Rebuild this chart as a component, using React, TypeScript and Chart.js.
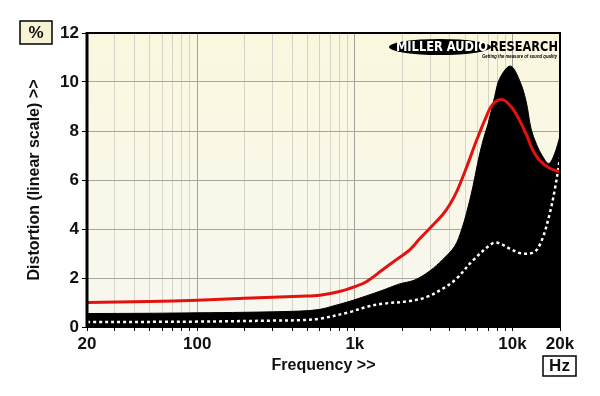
import React, { useEffect, useRef } from "react";
import { Chart, registerables } from "chart.js";

Chart.register(...registerables);

// ---- data ----
const envFreq = [20, 50, 100, 200, 450, 600, 720, 930, 1500, 1900, 2400, 3000, 3600, 4300, 4740, 5100, 5600, 6000, 6500, 7000, 7700, 8300, 9700, 11100, 12200, 13100, 14200, 15600, 17000, 18500, 20000];
const envVals = [0.55, 0.56, 0.58, 0.6, 0.65, 0.72, 0.85, 1.05, 1.5, 1.75, 1.92, 2.3, 2.75, 3.3, 3.95, 4.64, 5.71, 6.67, 7.62, 8.3, 9.4, 10.15, 10.65, 10.05, 9.2, 8.1, 7.45, 6.94, 6.67, 7.08, 7.8];

const redFreq = [20, 50, 100, 200, 450, 600, 800, 1000, 1183, 1508, 1834, 2228, 2577, 3118, 3622, 4000, 4406, 5096, 5900, 6828, 7516, 8626, 9838, 11096, 12244, 13486, 14860, 17214, 20000];
const redVals = [1.0, 1.04, 1.09, 1.17, 1.26, 1.3, 1.45, 1.65, 1.85, 2.35, 2.75, 3.15, 3.6, 4.15, 4.6, 5.0, 5.5, 6.5, 7.6, 8.6, 9.1, 9.28, 8.98, 8.43, 7.85, 7.2, 6.8, 6.48, 6.33];

const dotFreq = [20, 100, 300, 447, 598, 928, 1183, 1508, 2228, 2844, 3622, 4406, 5612, 7516, 8294, 9594, 11096, 12852, 14160, 15600, 17214, 18500, 20000];
const dotVals = [0.2, 0.22, 0.26, 0.28, 0.34, 0.61, 0.82, 0.95, 1.06, 1.22, 1.57, 1.97, 2.72, 3.43, 3.41, 3.2, 3.02, 3.0, 3.13, 3.67, 4.63, 5.58, 6.9];

const xTickValues = [20, 30, 40, 50, 60, 70, 80, 90, 100, 200, 300, 400, 500, 600, 700, 800, 900, 1000, 2000, 3000, 4000, 5000, 6000, 7000, 8000, 9000, 10000, 20000];
const xTickLabels: Record<number, string> = { 20: "20", 100: "100", 1000: "1k", 10000: "10k", 20000: "20k" };
const yTitle = "Distortion (linear scale) >>";
const xTitle = "Frequency >>";

const toPts = (f: number[], v: number[]) => f.map((x, i) => ({ x, y: v[i] }));

const FONT = "'Liberation Sans', Arial, sans-serif";

const decorPlugin = {
  id: "decor",
  beforeDraw(chart: any) {
    const { ctx, chartArea: a } = chart;
    ctx.save();
    ctx.fillStyle = "#ffffff";
    ctx.fillRect(0, 0, chart.width, chart.height);
    const g = ctx.createLinearGradient(0, a.top, 0, a.bottom);
    g.addColorStop(0, "#fbf7df");
    g.addColorStop(1, "#f8f7f1");
    ctx.fillStyle = g;
    ctx.fillRect(a.left, a.top, a.right - a.left, a.bottom - a.top);
    ctx.restore();
  },
  afterDraw(chart: any) {
    const { ctx, chartArea: a } = chart;
    ctx.save();
    // frame
    ctx.strokeStyle = "#000";
    ctx.lineWidth = 2;
    ctx.strokeRect(a.left, a.top, a.right - a.left, a.bottom - a.top);
    ctx.lineWidth = 3;
    ctx.beginPath();
    ctx.moveTo(a.left, a.top - 1);
    ctx.lineTo(a.left, a.bottom + 1);
    ctx.stroke();

    // % box
    ctx.fillStyle = "#f9f3d6";
    ctx.fillRect(20, 21, 32, 23);
    ctx.lineWidth = 1.5;
    ctx.strokeRect(20, 21, 32, 23);
    ctx.fillStyle = "#111";
    ctx.font = `bold 17px ${FONT}`;
    ctx.textAlign = "center";
    ctx.textBaseline = "middle";
    ctx.fillText("%", 36, 33);

    // Hz box
    ctx.fillStyle = "#ffffff";
    ctx.fillRect(543, 356, 33, 20);
    ctx.strokeRect(543, 356, 33, 20);
    ctx.fillStyle = "#111";
    ctx.fillText("Hz", 559.5, 366.5);

    // axis titles
    ctx.font = `bold 16px ${FONT}`;
    ctx.fillText(xTitle, (a.left + a.right) / 2, 366);
    ctx.save();
    ctx.translate(35, (a.top + a.bottom) / 2);
    ctx.rotate(-Math.PI / 2);
    ctx.fillText(yTitle, 0, 0);
    ctx.restore();

    // logo
    ctx.fillStyle = "#000";
    ctx.beginPath();
    ctx.ellipse(440, 47, 51, 8, 0, 0, Math.PI * 2);
    ctx.fill();
    ctx.font = `bold 14px 'DejaVu Sans', ${FONT}`;
    ctx.textAlign = "left";
    ctx.fillStyle = "#fff";
    ctx.fillText("MILLER AUDIO", 396, 47.5, 92);
    ctx.fillStyle = "#000";
    ctx.fillText("RESEARCH", 490, 47.5, 68);
    ctx.font = `italic bold 6px ${FONT}`;
    ctx.fillText("Getting the measure of sound quality", 482, 56.5, 75);
    ctx.restore();
  },
};

export default function App() {
  const ref = useRef<HTMLCanvasElement>(null);
  useEffect(() => {
    document.body.style.margin = "0";
    const chart = new Chart(ref.current!, {
      type: "line",
      data: {
        datasets: [
          {
            data: toPts(redFreq, redVals),
            borderColor: "#e3120f",
            borderWidth: 3,
            pointRadius: 0,
            tension: 0.35,
            fill: false,
            order: 0,
          },
          {
            data: toPts(dotFreq, dotVals),
            borderColor: "#ffffff",
            borderWidth: 2.5,
            borderDash: [3, 3],
            pointRadius: 0,
            tension: 0.35,
            fill: false,
            order: 1,
          },
          {
            data: toPts(envFreq, envVals),
            borderColor: "#000",
            backgroundColor: "#000",
            borderWidth: 1,
            pointRadius: 0,
            tension: 0.35,
            fill: "origin",
            order: 2,
          },
        ],
      } as any,
      options: {
        responsive: false,
        animation: false,
        devicePixelRatio: 1,
        layout: { padding: { top: 33, right: 40, left: 0, bottom: 0 } },
        plugins: { legend: { display: false }, tooltip: { enabled: false } },
        scales: {
          x: {
            type: "logarithmic",
            min: 20,
            max: 20000,
            afterBuildTicks: (s: any) => {
              s.ticks = xTickValues.map((v) => ({ value: v }));
            },
            afterFit: (s: any) => {
              s.height = 69;
            },
            ticks: {
              autoSkip: false,
              maxRotation: 0,
              padding: 3,
              color: "#111",
              font: { family: FONT, size: 17, weight: "bold" },
              callback: (v: any) => xTickLabels[Number(v)] ?? "",
            },
            grid: {
              color: (c: any) => {
                const v = c.tick?.value;
                if (v === 100 || v === 1000 || v === 10000) return "#a3a19a";
                return "#d6d3c8";
              },
              tickColor: "#000",
              tickLength: 4,
              lineWidth: 1,
            },
            border: { display: false },
          },
          y: {
            min: 0,
            max: 12,
            afterFit: (s: any) => {
              s.width = 87;
            },
            ticks: {
              stepSize: 2,
              padding: 3,
              color: "#111",
              font: { family: FONT, size: 17, weight: "bold" },
            },
            grid: {
              color: "#a8a69f",
              tickColor: "#000",
              tickLength: 5,
              lineWidth: 1,
            },
            border: { display: false },
          },
        },
      } as any,
      plugins: [decorPlugin],
    });
    return () => chart.destroy();
  }, []);
  return <canvas ref={ref} width={600} height={396} />;
}
